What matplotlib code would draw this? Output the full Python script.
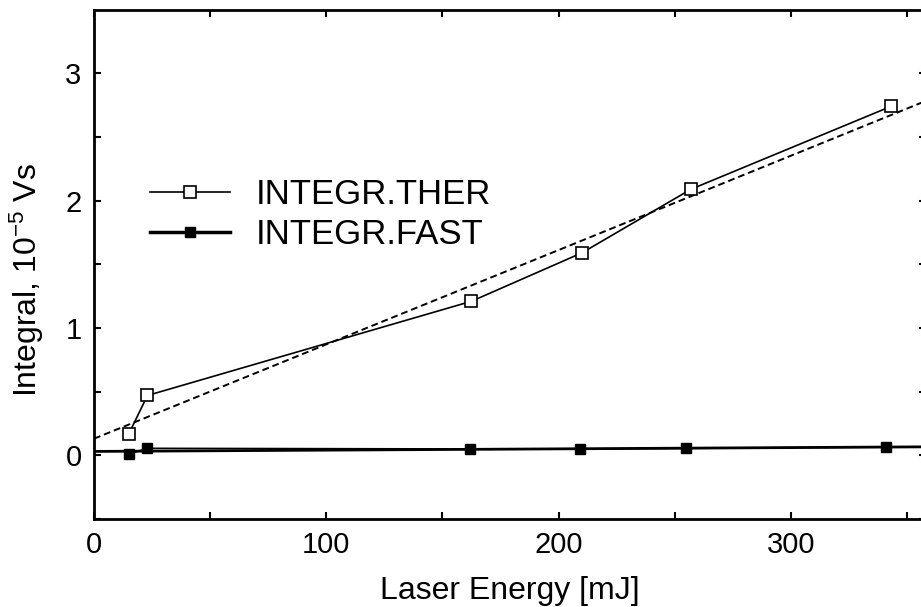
import numpy as np
import matplotlib
matplotlib.use('Agg')
import matplotlib.pyplot as plt

plt.rcParams['font.family'] = ['Liberation Sans', 'DejaVu Sans']
plt.rcParams['mathtext.fontset'] = 'custom'
plt.rcParams['mathtext.rm'] = 'Liberation Sans'
plt.rcParams['mathtext.it'] = 'Liberation Sans:italic'

# laser energy [mJ] and signal integral [1e-5 Vs]
energia_ther = [15, 23, 162.5, 210, 257, 343]
integral_ther = [0.17, 0.47, 1.21, 1.59, 2.09, 2.74]
energia_fast = [15, 23, 162, 209, 255, 341]
integral_fast = [0.01, 0.055, 0.05, 0.05, 0.055, 0.065]

rotulos = ['INTEGR.THER', 'INTEGR.FAST']

fig = plt.figure(figsize=(9.21, 6.07), dpi=100)
ax = fig.add_axes([0.1021, 0.145, 0.9029, 0.839])

xmax = 358
x_ajuste = np.array([0, xmax])

# linear fits
coef_ther = np.polyfit(energia_ther, integral_ther, 1)
coef_fast = np.polyfit(energia_fast, integral_fast, 1)
ax.plot(x_ajuste, np.polyval(coef_ther, x_ajuste), color='black', linestyle=(0, (3.5, 2)), lw=1.4)
ax.plot(x_ajuste, np.polyval(coef_fast, x_ajuste), color='black', lw=2)

ax.plot(energia_ther, integral_ther, color='black', lw=1.2, marker='s',
        markersize=8.5, markerfacecolor='white', markeredgecolor='black',
        markeredgewidth=1.2, zorder=3)
ax.plot(energia_fast, integral_fast, color='black', lw=1.2, marker='s',
        markersize=7.5, markerfacecolor='black', zorder=3)

ax.set_xlim(0, xmax)
ax.set_ylim(-0.5, 3.5)
ax.set_xticks([0, 100, 200, 300])
ax.set_xticks([50, 150, 250, 350], minor=True)
ax.set_yticks([0, 1, 2, 3])
ax.set_yticks([-0.5, 0.5, 1.5, 2.5], minor=True)
ax.tick_params(which='both', direction='in', top=True, right=True,
               width=1.5, length=5, labelsize=21, pad=9)
for s in ax.spines.values():
    s.set_linewidth(2)

ax.set_xlabel('Laser Energy [mJ]', fontsize=23, labelpad=12)
ax.set_ylabel('Integral, 10$^{-5}$ Vs', fontsize=23)
ax.yaxis.set_label_coords(-0.058, 0.469)

leg_h1, = ax.plot([], [], color='black', lw=1.2, marker='s', markersize=8.5,
                  markerfacecolor='white', markeredgewidth=1.2)
leg_h2, = ax.plot([], [], color='black', lw=2.5, marker='s', markersize=7.5,
                  markerfacecolor='black')
fig.legend([leg_h1, leg_h2], rotulos, loc='center left',
           bbox_to_anchor=(150 / 921, 1 - 214.5 / 607), frameon=False,
           fontsize=25, handlelength=2.3, handletextpad=0.75,
           labelspacing=0.22, borderpad=0, borderaxespad=0)

fig.savefig('out.png', dpi=100)
